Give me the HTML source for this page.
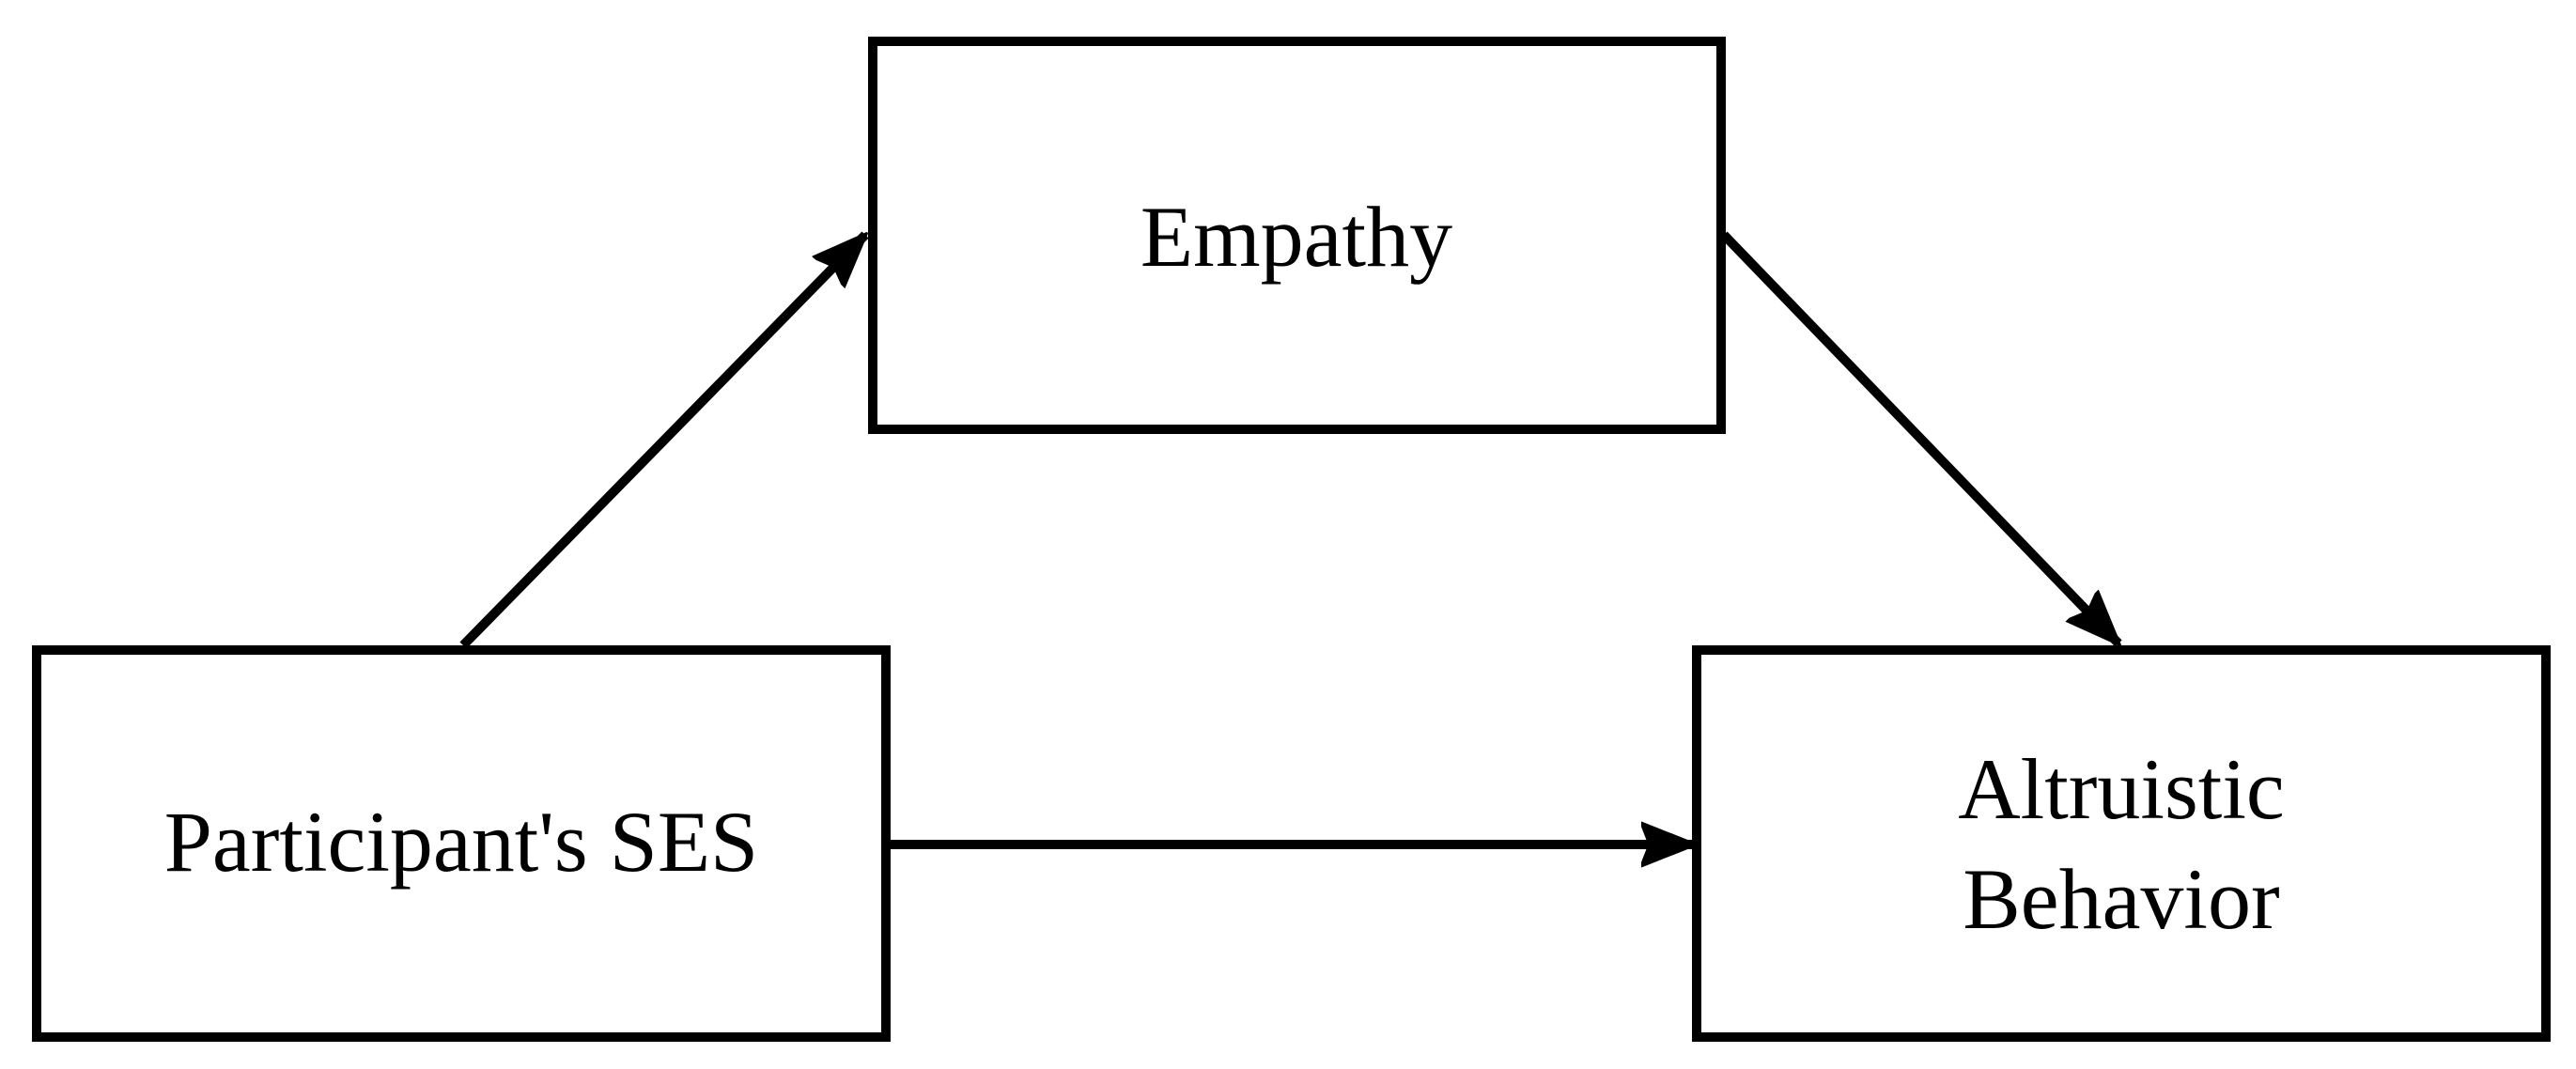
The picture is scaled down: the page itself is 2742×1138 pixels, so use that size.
<!DOCTYPE html>
<html><head><style>html,body{margin:0;padding:0;background:#fff;}svg{display:block}</style></head>
<body>
<svg width="2742" height="1138" viewBox="0 0 2742 1138" xmlns="http://www.w3.org/2000/svg">
<defs>
<marker id="a" markerWidth="6" markerHeight="5" refX="5.6" refY="2.5" orient="auto" markerUnits="strokeWidth">
<path d="M0,0.2 L5.8,2.5 L0,4.8 L0.9,2.5 Z" fill="#000" stroke="#000" stroke-width="0.3" stroke-linejoin="round"/>
</marker>
</defs>
<g fill="none" stroke="#000" stroke-width="10">
<rect x="929" y="44" width="903" height="413"/>
<rect x="39" y="692" width="904" height="412"/>
<rect x="1806" y="692" width="904" height="412"/>
<line x1="493" y1="687" x2="921" y2="250" marker-end="url(#a)"/>
<line x1="1835" y1="250" x2="2255" y2="685" marker-end="url(#a)"/>
<line x1="943" y1="899" x2="1803" y2="899" marker-end="url(#a)"/>
</g>
<g font-family="'Liberation Serif', serif" font-size="92" fill="#000" text-anchor="middle">
<text x="1380" y="283">Empathy</text>
<text x="491" y="927">Participant's SES</text>
<text x="2258" y="871">Altruistic</text>
<text x="2258" y="988">Behavior</text>
</g>
</svg>
</body></html>
